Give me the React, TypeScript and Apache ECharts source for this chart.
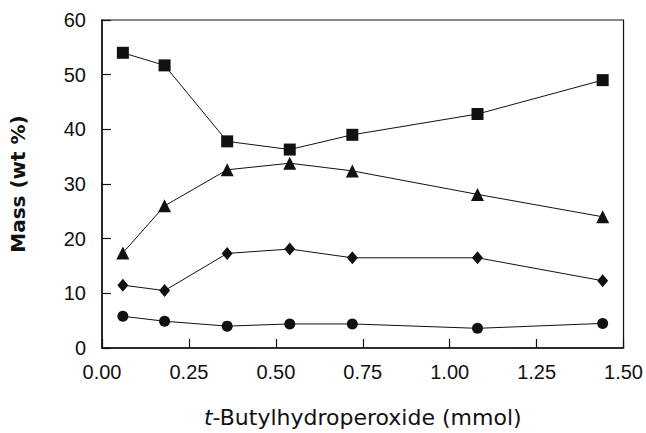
import React, { useEffect, useRef } from "react";
import * as echarts from "echarts";

const xValues = [0.06, 0.18, 0.36, 0.54, 0.72, 1.08, 1.44];
const squareValues = [54.0, 51.7, 37.8, 36.3, 39.0, 42.8, 49.0];
const triangleValues = [17.4, 26.0, 32.6, 33.8, 32.4, 28.1, 24.0];
const diamondValues = [11.5, 10.5, 17.3, 18.1, 16.5, 16.5, 12.3];
const circleValues = [5.8, 4.9, 4.0, 4.4, 4.4, 3.6, 4.5];

const pairs = (ys: number[]) => xValues.map((x, i) => [x, ys[i]]);

export default function App() {
  const ref = useRef<HTMLDivElement>(null);
  useEffect(() => {
    if (!ref.current) return;
    const chart = echarts.init(ref.current, null, { renderer: "svg" });
    const mk = (name: string, symbol: string, size: number | number[], ys: number[]) => ({
      name,
      type: "line",
      data: pairs(ys),
      symbol,
      symbolSize: size,
      lineStyle: { color: "#111", width: 1 },
      itemStyle: { color: "#111" },
      z: 3,
    });
    chart.setOption({
      animation: false,
      backgroundColor: "#fff",
      grid: {
        left: 102,
        right: 20,
        top: 20,
        bottom: 82,
        show: true,
        borderColor: "#111",
        borderWidth: 1.2,
        backgroundColor: "transparent",
      },
      xAxis: {
        type: "value",
        min: 0,
        max: 1.5,
        interval: 0.25,
        name: "{i|t}-Butylhydroperoxide (mmol)",
        nameLocation: "middle",
        nameGap: 58,
        nameTextStyle: {
          fontFamily: "DejaVu Sans",
          fontSize: 22,
          color: "#111",
          rich: {
            i: { fontFamily: "DejaVu Sans", fontSize: 22, fontStyle: "italic", color: "#111" },
          },
        },
        axisLine: { show: true, lineStyle: { color: "#111", width: 1.5 } },
        axisTick: { show: true, inside: true, length: 9, lineStyle: { color: "#111", width: 1.2 } },
        axisLabel: {
          fontFamily: "Liberation Sans",
          fontSize: 20,
          color: "#111",
          margin: 14,
          formatter: (v: number) => v.toFixed(2),
        },
        splitLine: { show: false },
      },
      yAxis: {
        type: "value",
        min: 0,
        max: 60,
        interval: 10,
        name: "Mass (wt %)",
        nameLocation: "middle",
        nameGap: 74,
        nameTextStyle: {
          fontFamily: "DejaVu Sans",
          fontWeight: "bold",
          fontSize: 20,
          color: "#111",
        },
        axisLine: { show: true, lineStyle: { color: "#111", width: 1.5 } },
        axisTick: { show: true, inside: true, length: 9, lineStyle: { color: "#111", width: 1.2 } },
        axisLabel: {
          fontFamily: "Liberation Sans",
          fontSize: 20,
          color: "#111",
          margin: 16,
        },
        splitLine: { show: false },
      },
      series: [
        mk("square", "rect", 12, squareValues),
        mk("triangle", "triangle", 13, triangleValues),
        mk("diamond", "diamond", [11, 13], diamondValues),
        mk("circle", "circle", 11, circleValues),
      ],
    });
    return () => chart.dispose();
  }, []);
  return <div ref={ref} style={{ width: 646, height: 433, position: "absolute", left: 0, top: 0 }} />;
}
